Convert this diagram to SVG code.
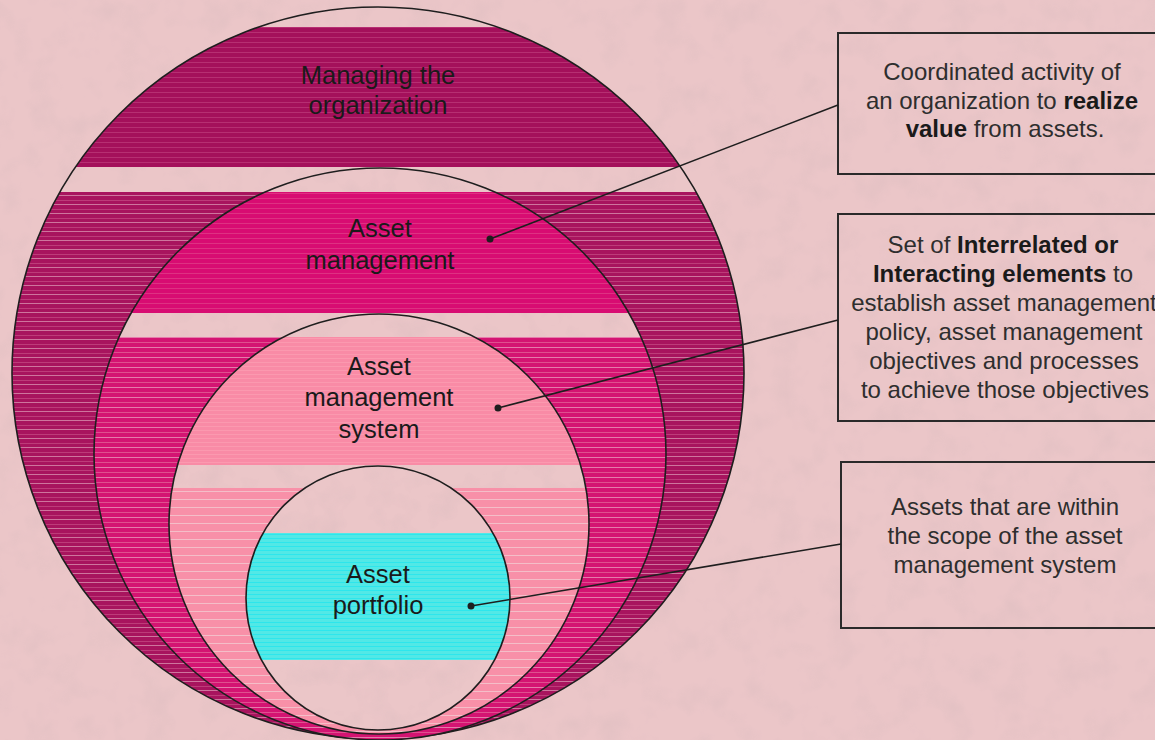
<svg xmlns="http://www.w3.org/2000/svg" width="1155" height="740" viewBox="0 0 1155 740">
  <style>
    .lbl { font-family: "Liberation Sans", Arial, sans-serif; font-size: 25.5px; fill: #1a1a1a; text-anchor: middle; }
    .box { fill: none; stroke: #2a2a2a; stroke-width: 2; }
    .btxt { font-family: "Liberation Sans", Arial, sans-serif; font-size: 24px; fill: #2e2e2e; text-anchor: middle; }
    .b { font-weight: bold; fill: #1a1a1a; }
    .ring { stroke: #1e1e1e; stroke-width: 1.6; }
    .conn { stroke: #1e1e1e; stroke-width: 1.6; fill: none; }
    .dot { fill: #1e1e1e; }
  </style>
  <defs>
    <filter id="tex" x="0" y="0" width="100%" height="100%">
      <feTurbulence type="fractalNoise" baseFrequency="0.035" numOctaves="3" seed="7" result="n"/>
      <feColorMatrix in="n" type="matrix" values="0 0 0 0 0.6  0 0 0 0 0.45  0 0 0 0 0.47  0 0 0 -1.4 0.75"/>
    </filter>
    <pattern id="pDark" width="8" height="5" patternUnits="userSpaceOnUse">
      <rect width="8" height="5" fill="#a4105b"/>
      <rect y="2" width="8" height="1" fill="#be3c7c" opacity="0.7"/>
    </pattern>
    <pattern id="pDarkLow" width="8" height="9" patternUnits="userSpaceOnUse">
      <rect width="8" height="9" fill="#a8145e"/>
      <rect y="2" width="8" height="1" fill="#c2467f" opacity="0.8"/>
      <rect y="6" width="8" height="1" fill="#e8b6c6" opacity="0.6"/>
    </pattern>
    <pattern id="pMag" width="8" height="5" patternUnits="userSpaceOnUse">
      <rect width="8" height="5" fill="#d80c72"/>
      <rect y="3" width="8" height="1" fill="#e24a8c" opacity="0.6"/>
    </pattern>
    <pattern id="pMagLow" width="8" height="10" patternUnits="userSpaceOnUse">
      <rect width="8" height="10" fill="#d41472"/>
      <rect y="2" width="8" height="1" fill="#e46a9c" opacity="0.7"/>
      <rect y="7" width="8" height="1" fill="#f0c0d0" opacity="0.6"/>
    </pattern>
    <pattern id="pPink" width="8" height="4" patternUnits="userSpaceOnUse">
      <rect width="8" height="4" fill="#f98ba6"/>
      <rect y="2" width="8" height="1" fill="#fb9cb2" opacity="0.8"/>
    </pattern>
    <pattern id="pPinkLow" width="8" height="8" patternUnits="userSpaceOnUse">
      <rect width="8" height="8" fill="#f890a8"/>
      <rect y="3" width="8" height="1" fill="#f4c4cc" opacity="0.9"/>
    </pattern>
    <pattern id="pCyan" width="8" height="4" patternUnits="userSpaceOnUse">
      <rect width="8" height="4" fill="#52e8e6"/>
      <rect y="2" width="8" height="1" fill="#1ee6ee" opacity="0.7"/>
    </pattern>
    <clipPath id="c1"><circle cx="378" cy="373" r="366"/></clipPath>
    <clipPath id="c2"><circle cx="380" cy="454" r="286"/></clipPath>
    <clipPath id="c3"><circle cx="379" cy="524" r="210"/></clipPath>
    <clipPath id="c4"><circle cx="378" cy="598" r="132"/></clipPath>
  </defs>

  <rect width="1155" height="740" fill="#ebc6c8"/>
  <rect width="1155" height="740" filter="url(#tex)" opacity="0.35"/>

  <g id="node-managing-organization">
    <g clip-path="url(#c1)">
      <rect x="0" y="27" width="760" height="140" fill="url(#pDark)"/>
      <rect x="0" y="192" width="760" height="560" fill="url(#pDarkLow)"/>
    </g>
    <circle class="ring" cx="378" cy="373" r="366" fill="none"/>
    <text class="lbl" x="378" y="84">Managing the</text>
    <text class="lbl" x="378" y="114">organization</text>
  </g>

  <g id="node-asset-management">
    <g clip-path="url(#c2)">
      <rect x="0" y="160" width="760" height="600" fill="#ebc6c8"/>
      <rect x="0" y="160" width="760" height="600" filter="url(#tex)" opacity="0.35"/>
      <rect x="0" y="192" width="760" height="121" fill="url(#pMag)"/>
      <rect x="0" y="337" width="760" height="420" fill="url(#pMagLow)"/>
    </g>
    <circle class="ring" cx="380" cy="454" r="286" fill="none"/>
    <text class="lbl" x="380" y="237">Asset</text>
    <text class="lbl" x="380" y="269">management</text>
  </g>

  <g id="node-asset-management-system">
    <g clip-path="url(#c3)">
      <rect x="0" y="310" width="760" height="440" fill="#ebc6c8"/>
      <rect x="0" y="310" width="760" height="440" filter="url(#tex)" opacity="0.35"/>
      <rect x="0" y="337" width="760" height="128" fill="url(#pPink)"/>
      <rect x="0" y="488" width="760" height="260" fill="url(#pPinkLow)"/>
    </g>
    <circle class="ring" cx="379" cy="524" r="210" fill="none"/>
    <text class="lbl" x="379" y="375">Asset</text>
    <text class="lbl" x="379" y="406">management</text>
    <text class="lbl" x="379" y="438">system</text>
  </g>

  <g id="node-asset-portfolio">
    <g clip-path="url(#c4)">
      <rect x="0" y="460" width="760" height="280" fill="#ebc6c8"/>
      <rect x="0" y="460" width="760" height="280" filter="url(#tex)" opacity="0.35"/>
      <rect x="0" y="533" width="760" height="127" fill="url(#pCyan)"/>
    </g>
    <circle class="ring" cx="378" cy="598" r="132" fill="none"/>
    <text class="lbl" x="378" y="583">Asset</text>
    <text class="lbl" x="378" y="614">portfolio</text>
  </g>

  <g id="node-box-asset-management">
    <rect class="box" x="838" y="33" width="330" height="141"/>
    <text class="btxt" x="1002" y="80">Coordinated activity of</text>
    <text class="btxt" x="1002" y="109">an organization to <tspan class="b">realize</tspan></text>
    <text class="btxt" x="1005" y="137"><tspan class="b">value</tspan> from assets.</text>
  </g>

  <g id="node-box-ams">
    <rect class="box" x="838" y="214" width="330" height="207"/>
    <text class="btxt" x="1003" y="253">Set of <tspan class="b">Interrelated or</tspan></text>
    <text class="btxt" x="1003" y="282"><tspan class="b">Interacting elements</tspan> to</text>
    <text class="btxt" x="1004" y="311">establish asset management</text>
    <text class="btxt" x="1004" y="340">policy, asset management</text>
    <text class="btxt" x="1004" y="369">objectives and processes</text>
    <text class="btxt" x="1005" y="398">to achieve those objectives</text>
  </g>

  <g id="node-box-portfolio">
    <rect class="box" x="841" y="462" width="330" height="166"/>
    <text class="btxt" x="1005" y="515">Assets that are within</text>
    <text class="btxt" x="1005" y="544">the scope of the asset</text>
    <text class="btxt" x="1005" y="573">management system</text>
  </g>

  <g id="connectors">
    <line class="conn" x1="490" y1="239" x2="838" y2="105"/>
    <circle class="dot" cx="490" cy="239" r="3.5"/>
    <line class="conn" x1="498" y1="408" x2="838" y2="320"/>
    <circle class="dot" cx="498" cy="408" r="3.5"/>
    <line class="conn" x1="471" y1="606" x2="841" y2="544"/>
    <circle class="dot" cx="471" cy="606" r="3.5"/>
  </g>
</svg>
